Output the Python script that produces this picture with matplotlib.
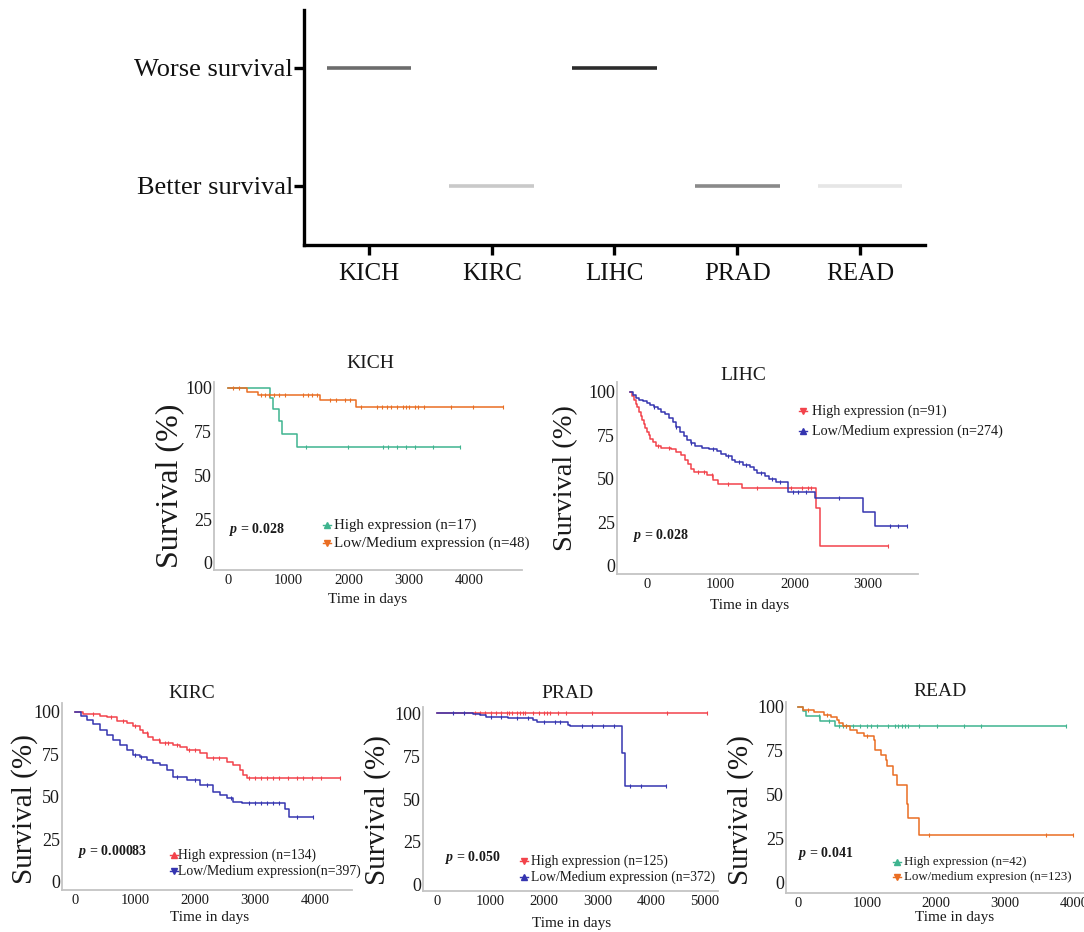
import numpy as np
import matplotlib
matplotlib.use("Agg")
import matplotlib.pyplot as plt
from matplotlib.lines import Line2D

plt.rcParams['font.family'] = ['Liberation Serif', 'DejaVu Serif']
plt.rcParams['mathtext.fontset'] = 'custom'
plt.rcParams['mathtext.bfit'] = 'Liberation Serif:bold:italic'

W, H = 1084, 932

# ---------------- data ----------------
cancers = ['KICH', 'KIRC', 'LIHC', 'PRAD', 'READ']
outcome = [1, 0, 1, 0, 0]          # 1 = worse survival, 0 = better survival
outcome_labels = ['Better survival', 'Worse survival']
shades = ['#6c6c6c', '#c9c9c9', '#2c2c2c', '#8a8a8a', '#e6e6e6']

# KICH
kich_high_t = [0, 700, 750, 850, 900, 1150]
kich_high_s = [100, 94, 88, 81, 73.5, 66]
kich_high_end = 3850
kich_high_cens = [1300, 2000, 2580, 2650, 2800, 2950, 3100, 3400, 3850]
kich_low_t = [0, 320, 505, 1530, 2120]
kich_low_s = [100, 97.9, 95.7, 93.2, 89.3]
kich_low_end = 4560
kich_low_cens = [80, 180, 540, 620, 680, 760, 850, 950, 1250, 1330, 1400, 1480, 1700,
                 1800, 1950, 2020, 2200, 2480, 2560, 2640, 2700, 2800, 2900, 2950, 3000,
                 3100, 3150, 3250, 3700, 4070, 4560]

# LIHC
lihc_high_t = [-225, -200, -175, -150, -125, -100, -80, -60, -40, -20, 0, 25, 50, 80, 120,
               200, 330, 400, 470, 520, 560, 600, 640, 820, 900, 960, 1290, 2290, 2340]
lihc_high_s = [100, 97.8, 95.5, 93.2, 91, 88.5, 86, 84, 81.5, 79, 77, 75, 73, 71, 69,
               68, 67, 65.5, 63.5, 61, 58.5, 55.5, 53.8, 52, 49.5, 47.3, 44.6, 33, 11.3]
lihc_high_end = 3265
lihc_high_cens = [150, 300, 700, 780, 880, 1100, 1500, 1950, 2100, 2180, 2220, 3265]
lihc_low_t = [-225, -190, -150, -100, -50, 0, 50, 100, 150, 200, 250, 300, 350, 400, 450,
              500, 550, 600, 650, 750, 850, 950, 1000, 1080, 1150, 1200, 1300, 1400, 1450,
              1500, 1600, 1650, 1750, 1915, 2278, 2930, 3090]
lihc_low_s = [100, 98, 96.5, 95.5, 94.5, 93.5, 92.5, 91.5, 90, 88.5, 87, 85, 82.5, 80, 77,
              74.5, 72.5, 70.5, 69, 68, 67, 66, 64.5, 63, 61, 59.5, 58, 57, 55, 53.5,
              51.5, 50, 48.4, 42.6, 39, 31, 23.1]
lihc_low_end = 3520
lihc_low_cens = [100, 400, 600, 900, 1100, 1250, 1350, 1550, 1700, 1800, 1980, 2050, 2150,
                 2600, 3300, 3400, 3520]

# KIRC
kirc_high_t = [0, 140, 420, 530, 700, 860, 970, 1080, 1140, 1220, 1300, 1420, 1640, 1750,
               1860, 2080, 2200, 2530, 2640, 2750, 2800, 2860]
kirc_high_s = [100, 98.6, 97.5, 96.7, 94.7, 93.1, 91.2, 89.2, 87.3, 85.3, 83.3, 81.4, 80.4,
               79, 77.5, 75.5, 72.5, 70.6, 68.6, 65.7, 62.7, 61]
kirc_high_end = 4420
kirc_high_cens = [300, 600, 800, 1000, 1200, 1400, 1500, 1550, 1700, 1900, 2000, 2300, 2400,
                  2900, 3000, 3100, 3200, 3300, 3400, 3550, 3700, 3800, 3950, 4100, 4420]
kirc_low_t = [0, 100, 200, 300, 420, 530, 640, 750, 860, 970, 1080, 1200, 1300, 1420, 1530,
              1640, 1860, 2080, 2300, 2420, 2530, 2640, 2780, 3500, 3560]
kirc_low_s = [100, 97.5, 95, 92.5, 89.2, 86, 83.3, 80.5, 77.5, 74.5, 73, 71.6, 70, 68.6,
              65.7, 61.8, 59.8, 56.9, 52.9, 51, 49, 47.1, 46, 42.5, 38]
kirc_low_end = 3970
kirc_low_cens = [1000, 1100, 1700, 2000, 2200, 2600, 2900, 3000, 3100, 3200, 3300, 3400,
                 3700, 3970]

# PRAD
prad_high_t = [0]
prad_high_s = [100]
prad_high_end = 5030
prad_high_cens = [700, 800, 900, 1000, 1100, 1200, 1300, 1350, 1400, 1500, 1550, 1600, 1650,
                  1800, 1900, 2000, 2050, 2100, 2250, 2400, 2900, 4300, 5030]
prad_low_t = [0, 670, 800, 920, 1330, 1800, 1860, 2450, 2480, 3445, 3505]
prad_low_s = [100, 99.5, 98.6, 97.9, 96.9, 95.7, 95, 93.2, 92.2, 76.7, 57.7]
prad_low_end = 4270
prad_low_cens = [300, 500, 1000, 1200, 1500, 1700, 2000, 2200, 2300, 2700, 2900, 3100, 3300,
                 3600, 3800, 4270]

# READ
read_high_t = [0, 70, 120, 320, 540]
read_high_s = [100, 97.5, 94.7, 91.9, 89]
read_high_end = 3880
read_high_cens = [300, 450, 600, 650, 700, 800, 900, 1000, 1050, 1150, 1300, 1400, 1450,
                  1500, 1550, 1600, 1750, 2020, 2400, 2650, 3880]
read_low_t = [0, 70, 230, 370, 480, 560, 600, 650, 760, 850, 950, 1100, 1120, 1200, 1270,
              1290, 1370, 1440, 1580, 1600, 1760]
read_low_s = [100, 98.5, 97, 95.5, 94, 92.3, 90.9, 89, 87, 85.2, 83.3, 81.4, 75.8, 72.9,
              70, 66.3, 61.6, 55.5, 45, 37, 27]
read_low_end = 3980
read_low_cens = [150, 420, 700, 1000, 1900, 3600, 3980]

# colours
GREEN, ORANGE = '#3fb48f', '#ea6e23'
RED, BLUE = '#f2434b', '#3535b0'

fig = plt.figure(figsize=(W / 100, H / 100), dpi=100)
fig.patch.set_facecolor('white')


def add_ax(l, r, b, t):
    return fig.add_axes([l / W, 1 - b / H, (r - l) / W, (b - t) / H])


def ftext(x, y, s, **kw):
    return fig.text(x / W, 1 - y / H, s, **kw)

# ---------------- top panel ----------------
ax0 = add_ax(304, 925, 245, 10)
pos = np.arange(len(cancers))
for i, (o, c) in enumerate(zip(outcome, shades)):
    ax0.hlines(o, pos[i] - 0.345, pos[i] + 0.345, color=c, lw=2.6)
ax0.set_xlim(-0.53, 4.53)
ax0.set_ylim(-0.5, 1.49)
for s in ['top', 'right']:
    ax0.spines[s].set_visible(False)
for s in ['left', 'bottom']:
    ax0.spines[s].set_linewidth(2.4)
    ax0.spines[s].set_color('black')
ax0.set_xticks(pos)
ax0.set_xticklabels(cancers, fontsize=18)
ax0.set_yticks([0, 1])
ax0.set_yticklabels(outcome_labels, fontsize=19)
ax0.tick_params(axis='both', length=7, width=2.4, color='black', labelcolor='#111111')
ax0.tick_params(axis='x', pad=6)
ax0.tick_params(axis='y', pad=1)


# ---------------- KM panels ----------------
def km(ax, t, s, end, cens, color):
    tt = list(t) + [end]
    ss = list(s) + [s[-1]]
    ax.step(tt, ss, where='post', color=color, lw=1.1)
    ct = np.array(cens)
    idx = np.searchsorted(np.array(t), ct, side='right') - 1
    cs = np.array(s)[idx]
    ax.plot(ct, cs, ls='none', marker='|', ms=2.5, mew=0.8, color=color)


def panel(box, xlim, ylim, xticks, curves, title, tpos, ylpos, xlpos, ptxt, ppos,
          legpos, labels, markers, ylsize=22, legsize=10.5):
    ax = add_ax(*box)
    for c in curves:
        km(ax, *c)
    ax.set_xlim(*xlim)
    ax.set_ylim(*ylim)
    for s in ['top', 'right']:
        ax.spines[s].set_visible(False)
    for s in ['left', 'bottom']:
        ax.spines[s].set_color('#c4c4c4')
        ax.spines[s].set_linewidth(1.3)
    ax.set_yticks([0, 25, 50, 75, 100])
    ax.set_xticks(xticks)
    ax.tick_params(axis='y', length=0, pad=1.5, labelsize=13, labelcolor='#1a1a1a')
    ax.tick_params(axis='x', length=0, pad=3, labelsize=10.5, labelcolor='#1a1a1a')
    ftext(tpos[0], tpos[1], title, ha='center', va='center', fontsize=14, color='#1a1a1a')
    ftext(ylpos[0], ylpos[1], 'Survival (%)', ha='center', va='center', rotation=90,
          fontsize=ylsize, color='#1a1a1a')
    ftext(xlpos[0], xlpos[1], 'Time in days', ha='center', va='center', fontsize=11,
          color='#1a1a1a')
    ftext(ppos[0], ppos[1], r'$\mathbfit{p}$' + ' = ' + ptxt, ha='left', va='center',
          fontsize=10, fontweight='bold', color='#1a1a1a')
    mx, tx, ys = legpos
    for lab, y, (col, mk) in zip(labels, ys, markers):
        fig.add_artist(Line2D([mx / W - 0.004, mx / W + 0.004], [1 - y / H, 1 - y / H],
                              color=col, lw=1.0, transform=fig.transFigure))
        fig.add_artist(Line2D([mx / W], [1 - y / H], color=col, marker=mk, ms=4,
                              transform=fig.transFigure))
        ftext(tx, y, lab, ha='left', va='center', fontsize=legsize, color='#1a1a1a')
    return ax


# KICH
panel((214, 522, 570, 382), (-232, 4880), (-4, 103.4), [0, 1000, 2000, 3000, 4000],
      [(kich_high_t, kich_high_s, kich_high_end, kich_high_cens, GREEN),
       (kich_low_t, kich_low_s, kich_low_end, kich_low_cens, ORANGE)],
      'KICH', (370, 363), (170, 486), (368, 600), '0.028', (229, 530),
      (327, 334, [525, 543]),
      ['High expression (n=17)', 'Low/Medium expression (n=48)'],
      [(GREEN, '^'), (ORANGE, 'v')], ylsize=23, legsize=10.8)

# LIHC
panel((617, 918, 574, 382), (-402, 3673), (-4.6, 105.6), [0, 1000, 2000, 3000],
      [(lihc_high_t, lihc_high_s, lihc_high_end, lihc_high_cens, RED),
       (lihc_low_t, lihc_low_s, lihc_low_end, lihc_low_cens, BLUE)],
      'LIHC', (743, 375), (566, 478), (750, 606), '0.028', (633, 535),
      (803, 812, [411, 431]),
      ['High expression (n=91)', 'Low/Medium expression (n=274)'],
      [(RED, 'v'), (BLUE, '^')], ylsize=20.5, legsize=10.2)

# KIRC
panel((62, 352, 890, 703), (-217, 4617), (-4.9, 105), [0, 1000, 2000, 3000, 4000],
      [(kirc_high_t, kirc_high_s, kirc_high_end, kirc_high_cens, RED),
       (kirc_low_t, kirc_low_s, kirc_low_end, kirc_low_cens, BLUE)],
      'KIRC', (192, 693), (25, 809), (210, 918), '0.00083', (78, 852),
      (174, 178, [855, 871]),
      ['High expression (n=134)', 'Low/Medium expression(n=397)'],
      [(RED, '^'), (BLUE, 'v')], ylsize=21, legsize=9.9)

# PRAD
panel((423, 718, 891, 707), (-261, 5243), (-3.5, 103.5), [0, 1000, 2000, 3000, 4000, 5000],
      [(prad_high_t, prad_high_s, prad_high_end, prad_high_cens, RED),
       (prad_low_t, prad_low_s, prad_low_end, prad_low_cens, BLUE)],
      'PRAD', (567, 693), (378, 810), (572, 923), '0.050', (445, 857),
      (524, 531, [861, 877]),
      ['High expression (n=125)', 'Low/Medium expression (n=372)'],
      [(RED, 'v'), (BLUE, '^')], ylsize=21, legsize=9.8)

# READ
panel((786, 1084, 893, 702), (-175, 4145), (-5.7, 102.8), [0, 1000, 2000, 3000, 4000],
      [(read_high_t, read_high_s, read_high_end, read_high_cens, GREEN),
       (read_low_t, read_low_s, read_low_end, read_low_cens, ORANGE)],
      'READ', (940, 692), (741, 810), (955, 917), '0.041', (798, 853),
      (897, 904, [862, 877]),
      ['High expression (n=42)', 'Low/medium expresion (n=123)'],
      [(GREEN, '^'), (ORANGE, 'v')], ylsize=21, legsize=9.3)

fig.savefig('out.png', dpi=100, facecolor='white')
